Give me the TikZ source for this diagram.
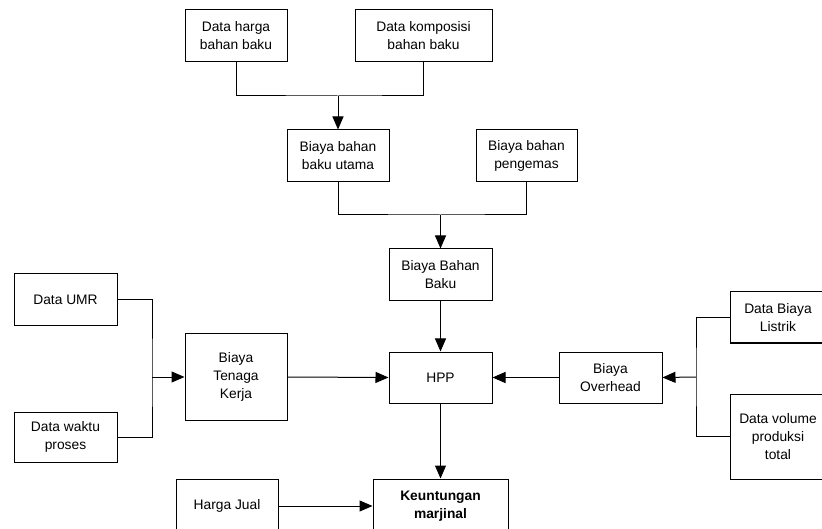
\documentclass[tikz,border=0pt]{standalone}
\usepackage{fontspec}
\setmainfont{Liberation Sans}
\usetikzlibrary{arrows.meta}
\begin{document}
\begin{tikzpicture}[x=1pt,y=-1pt,
  box/.style={draw=black,line width=1pt,inner sep=0pt,align=center,
    font=\fontsize{13.8}{18}\selectfont},
  conn/.style={draw=black,line width=1pt},
  arr/.style={conn,-{Triangle[length=13pt,width=11pt]}}]
\clip (0,0) rectangle (822,529);
\fill[white] (0,0) rectangle (822,529);
% top
\node[box,minimum width=102pt,minimum height=52pt] (dh) at (236,36) {Data harga\\bahan baku};
\node[box,minimum width=137pt,minimum height=52pt] (dk) at (423.5,36) {Data komposisi\\bahan baku};
\node[box,minimum width=102pt,minimum height=52pt] (bbu) at (338,156) {Biaya bahan\\baku utama};
\node[box,minimum width=101pt,minimum height=52pt] (bbp) at (526.5,156) {Biaya bahan\\pengemas};
\node[box,minimum width=103pt,minimum height=52pt] (bbb) at (440.5,275) {Biaya Bahan\\Baku};
\node[box,minimum width=103pt,minimum height=51pt] (hpp) at (440.5,377.5) {HPP};
\node[box,minimum width=135pt,minimum height=54pt,font=\fontsize{13.8}{18}\selectfont\bfseries] (ku) at (440.5,506) {Keuntungan\\marjinal};
\node[box,minimum width=103pt,minimum height=51pt] (bo) at (610.5,377.5) {Biaya\\Overhead};
\node[box,minimum width=96pt,minimum height=51pt] (dbl) at (778,317.5) {Data Biaya\\Listrik};
\node[box,minimum width=96pt,minimum height=85pt] (dvp) at (778,436.5) {Data volume\\produksi\\total};
\node[box,minimum width=103pt,minimum height=52pt] (umr) at (65.5,300) {Data UMR};
\node[box,minimum width=103pt,minimum height=50pt] (dwp) at (65.5,437) {Data waktu\\proses};
\node[box,minimum width=102pt,minimum height=86pt] (btk) at (236,377) {Biaya\\Tenaga\\Kerja};
\node[box,minimum width=102pt,minimum height=54pt] (hj) at (227,506) {Harga Jual};
% junctions
\coordinate (j1) at (338,96);
\coordinate (j2) at (440.5,215);
\coordinate (j3) at (152,377);
\coordinate (j4) at (696,377);
% connectors
\draw[conn] (dh.south) |- (j1) -| (dk.south);
\draw[arr] (j1) -- (bbu.north);
\draw[conn] (bbu.south) |- (j2) -| (bbp.south);
\draw[arr] (j2) -- (bbb.north);
\draw[arr] (bbb.south) -- (hpp.north);
\draw[conn] (umr.east) -| (j3) |- (dwp.east);
\draw[arr] (j3) -- (btk.west);
\draw[arr] (btk.east) -- (hpp.west);
\draw[conn] (dbl.west) -| (j4) |- (dvp.west);
\draw[arr] (j4) -- (bo.east);
\draw[arr] (bo.west) -- (hpp.east);
\draw[arr] (hpp.south) -- (ku.north);
\draw[arr] (hj.east) -- (ku.west);
\end{tikzpicture}
\end{document}
